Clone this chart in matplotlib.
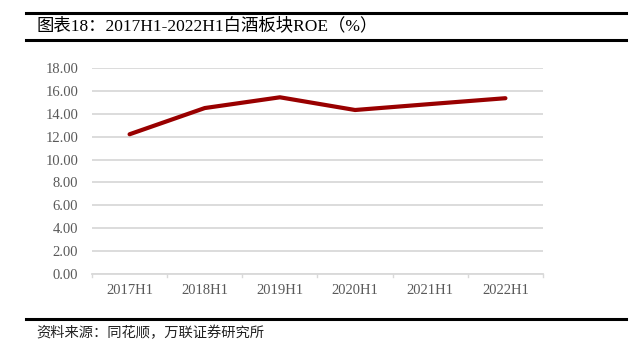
import matplotlib
matplotlib.use("Agg")
import matplotlib.pyplot as plt
from matplotlib.lines import Line2D

categories = ["2017H1", "2018H1", "2019H1", "2020H1", "2021H1", "2022H1"]
roe = [12.21, 14.50, 15.44, 14.33, 14.85, 15.36]
yticks = [0, 2, 4, 6, 8, 10, 12, 14, 16, 18]

title = "图表18：2017H1-2022H1白酒板块ROE（%）"
source = "资料来源：同花顺，万联证券研究所"

W, H = 639, 352
fig = plt.figure(figsize=(W/100, H/100), dpi=100)
fams = ["Liberation Serif", "Noto Sans CJK SC"]

ax = fig.add_axes([92/W, 1-274/H, (543-92)/W, (274-68)/H])
x = list(range(len(categories)))
ax.plot(x, roe, color="#990000", lw=3.0, solid_capstyle="round", zorder=3)
ax.set_xlim(-0.5, len(categories)-0.5)
ax.set_ylim(0, 18)
ax.set_yticks(yticks)
ax.set_yticklabels([f"{v:.2f}" for v in yticks], family=fams, fontsize=10.5, color="#595959")
ax.set_xticks(x)
ax.set_xticklabels(categories, family=fams, fontsize=10.5, color="#595959")
ax.tick_params(axis="x", length=0, pad=7)
ax.tick_params(axis="y", length=0, pad=10)
for i in range(len(categories)+1):
    ax.plot([i-0.5, i-0.5], [0, -0.25], color="#d9d9d9", lw=1, clip_on=False)
ax.grid(axis="y", color="#d9d9d9", lw=1.3)
ax.set_axisbelow(True)
for s in ["top", "right", "left"]:
    ax.spines[s].set_visible(False)
ax.spines["bottom"].set_color("#d9d9d9")
ax.spines["bottom"].set_linewidth(1.3)

for yy in [12.7, 40, 319]:
    fig.add_artist(Line2D([26/W, 626/W], [1-yy/H, 1-yy/H], color="black", lw=2.2))

fig.text(37/W, 1-26/H, title, family=fams, fontsize=12.5, va="center", ha="left")
fig.text(36/W, 1-333/H, source, family=fams, fontsize=10.3, va="center", ha="left", color="#222222")

fig.savefig("out.png", dpi=100)
